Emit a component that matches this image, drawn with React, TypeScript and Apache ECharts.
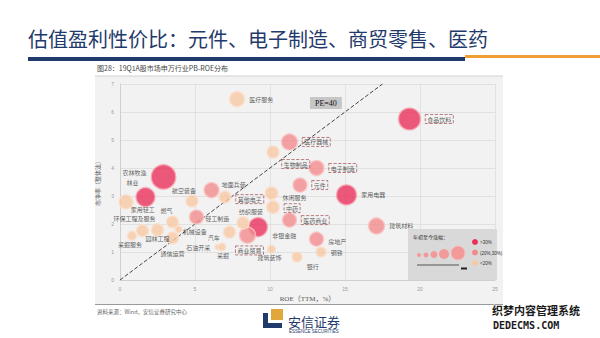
import React, { useEffect, useRef } from 'react';
import * as echarts from 'echarts';

// ---- data ----
const industries = [
  '医疗服务', '食品饮料', '医疗器械', '生物制品', '电子制造', '元件', '家用电器', '建筑材料',
  '房地产', '钢铁', '银行', '建筑装饰', '非银金融', '商业贸易', '医药商业', '休闲服务',
  '中药', '农林牧渔', '林业', '家用轻工', '航空装备', '地面兵装', '其他电子', '轻工制造',
  '燃气', '环保工程及服务', '园林工程', '采掘服务', '通信运营', '机械设备', '汽车', '石油开采',
  '采掘', '纺织服装',
];
const roe = [
  7.8, 19.3, 11.3, 10.2, 13.1, 12.0, 15.1, 17.1,
  13.1, 13.4, 11.8, 10.1, 9.2, 8.5, 11.3, 10.1,
  10.2, 2.9, 1.7, 0.4, 4.8, 6.1, 7.0, 5.1,
  3.5, 1.5, 2.5, 0.8, 3.5, 3.9, 7.3, 6.5,
  6.8, 8.2,
];
const pb = [
  6.46, 5.75, 4.93, 4.57, 4.0, 3.39, 3.04, 1.93,
  1.46, 1.0, 0.82, 1.1, 1.89, 1.6, 2.14, 3.1,
  2.6, 3.68, 2.96, 2.79, 2.82, 3.21, 2.96, 2.25,
  2.07, 1.76, 1.79, 1.58, 1.5, 1.8, 1.71, 1.18,
  1.18, 2.04,
];
// bubble weight (market size proxy)
const weight = [
  56, 121, 64, 36, 56, 49, 100, 64,
  49, 25, 25, 16, 90, 64, 49, 40,
  40, 150, 90, 49, 36, 56, 36, 49,
  36, 36, 36, 20, 36, 12, 36, 6,
  14, 36,
];
// 0: >30%, 1: (20%,30%), 2: <20%
const tier = [
  2, 0, 1, 2, 1, 1, 0, 1,
  1, 2, 2, 2, 0, 1, 1, 2,
  2, 0, 0, 2, 2, 1, 2, 1,
  2, 2, 2, 2, 2, 2, 2, 2,
  2, 2,
];
const highlighted = ['食品饮料', '医疗器械', '生物制品', '电子制造', '元件', '医药商业', '中药', '其他电子', '商业贸易'];
const peLine = [[0, 0], [17.5, 7]];
const xTicks = { min: 0, max: 25, interval: 5 };
const yTicks = { min: 0, max: 7, interval: 1 };
const legendTiers = ['>30%', '(20%,30%)', '<20%'];

// ---- label placement (style) ----
const labelPlace: Record<string, [string, number, number]> = {
  '医疗服务': ['right', 0, 0],
  '食品饮料': ['right', 0, 0],
  '医疗器械': ['right', 0, 0],
  '生物制品': ['right', -2, 12],
  '电子制造': ['right', 0, 0],
  '元件': ['right', 0, 0],
  '家用电器': ['right', 0, 0],
  '建筑材料': ['right', 0, 0],
  '房地产': ['right', 0, 2],
  '钢铁': ['right', 0, 0],
  '银行': ['right', 0, 9],
  '建筑装饰': ['bottom', -2, -3],
  '非银金融': ['right', 0, 8],
  '商业贸易': ['bottom', 2, -2],
  '医药商业': ['right', 0, 0],
  '休闲服务': ['right', 0, 4],
  '中药': ['right', 0, 1],
  '农林牧渔': ['left', 0, -4],
  '林业': ['top', -13, 3],
  '家用轻工': ['right', -7, 8],
  '航空装备': ['top', -8, 3],
  '地面兵装': ['right', -2, -6],
  '其他电子': ['right', 0, 2],
  '轻工制造': ['right', -3, 1],
  '燃气': ['top', -6, 2],
  '环保工程及服务': ['top', -8, 2],
  '园林工程': ['bottom', 0, -5],
  '采掘服务': ['bottom', -2, -3],
  '通信运营': ['bottom', 0, 2],
  '机械设备': ['right', -4, 2],
  '汽车': ['left', 1, 5],
  '石油开采': ['left', 0, 1],
  '采掘': ['bottom', 1, -3],
  '纺织服装': ['top', 8, 2],
};

const tierColors = [
  { color: '#e8315a', borderColor: '#f6aab5' },
  { color: '#f28b8e', borderColor: '#f9c4c3' },
  { color: '#f8c8a4', borderColor: '#fbdfcb' },
];

const NAVY = '#1f3a6b';
const CJK = '"Noto Sans CJK SC", sans-serif';

export default function App() {
  const ref = useRef<HTMLDivElement>(null);
  useEffect(() => {
    if (!ref.current) return;
    const chart = echarts.init(ref.current, undefined, { renderer: 'svg' });

    const data = industries.map((name, i) => {
      const lp = labelPlace[name] || ['right', 0, 0];
      const boxed = highlighted.includes(name);
      return {
        name,
        value: [roe[i], pb[i], weight[i]],
        itemStyle: { ...tierColors[tier[i]], borderWidth: 1.5 },
        label: {
          show: true,
          position: lp[0],
          offset: [lp[1], lp[2]],
          distance: 4,
          formatter: '{b}',
          fontSize: 6,
          fontFamily: CJK,
          color: '#333',
          ...(boxed
            ? { borderType: 'dashed', borderColor: '#9a3b40', borderWidth: 0.8, padding: [1.5, 2] }
            : {}),
        },
      };
    });

    const legendX = 408, legendY = 229;

    chart.setOption({
      animation: false,
      grid: { left: 120, right: 105, top: 84, bottom: 58 },
      xAxis: {
        type: 'value',
        ...xTicks,
        name: 'ROE（TTM，%）',
        nameLocation: 'middle',
        nameGap: 15,
        nameTextStyle: { fontSize: 7, color: '#555', fontFamily: '"Liberation Serif", "Noto Sans CJK SC", serif' },
        axisLine: { show: true, lineStyle: { color: '#cfcfcf' } },
        axisTick: { show: false },
        axisLabel: { fontSize: 5, color: '#999', margin: 6 },
        splitLine: { show: true, lineStyle: { color: '#dcdcdc', width: 0.8 } },
      },
      yAxis: {
        type: 'value',
        ...yTicks,
        name: '市净率（整体法）',
        nameLocation: 'middle',
        nameGap: 16,
        nameRotate: 90,
        nameTextStyle: { fontSize: 6, color: '#666', fontFamily: CJK },
        axisLine: { show: true, lineStyle: { color: '#cfcfcf' } },
        axisTick: { show: false },
        axisLabel: { fontSize: 5, color: '#999', margin: 6 },
        splitLine: { show: true, lineStyle: { color: '#dcdcdc', width: 0.8 } },
      },
      series: [
        {
          type: 'line',
          data: peLine,
          symbol: 'none',
          lineStyle: { type: 'dashed', color: '#444', width: 1 },
          z: 1,
        },
        {
          type: 'scatter',
          data,
          symbolSize: (v: number[]) => 2 * Math.sqrt(v[2]),
          z: 2,
        },
      ],
      graphic: [
        { type: 'rect', z: -10, shape: { x: 95, y: 76, width: 408, height: 228 }, style: { fill: '#f2f2f2' } },
        { type: 'line', z: -9, shape: { x1: 95, y1: 76, x2: 503, y2: 76 }, style: { stroke: '#c8c8c8', lineWidth: 0.8 } },
        { type: 'line', z: -9, shape: { x1: 95, y1: 304.5, x2: 503, y2: 304.5 }, style: { stroke: '#9a9a9a', lineWidth: 1 } },
        {
          type: 'text', x: 28, y: 38,
          style: { text: '估值盈利性价比：元件、电子制造、商贸零售、医药', fill: NAVY, font: `20px ${CJK}`, verticalAlign: 'middle' },
        },
        { type: 'rect', shape: { x: 28, y: 57, width: 437, height: 4 }, style: { fill: NAVY } },
        { type: 'rect', shape: { x: 465, y: 55, width: 135, height: 3 }, style: { fill: '#f0a032' } },
        {
          type: 'text', x: 97, y: 68,
          style: { text: '图28：19Q1A股市场申万行业PB-ROE分布', fill: '#444', font: `7px ${CJK}`, verticalAlign: 'middle' },
        },
        {
          type: 'text', x: 310, y: 97, z: 5,
          style: {
            text: 'PE=40', fill: '#111', font: '8px "Liberation Serif", serif',
            backgroundColor: '#c6c6c6', padding: [2, 5], verticalAlign: 'top',
          },
        },
        // legend box
        { type: 'rect', z: 5, shape: { x: legendX, y: legendY, width: 89, height: 51 }, style: { fill: '#d9d9d9' } },
        { type: 'text', z: 6, x: 413, y: 236, style: { text: '年初至今涨幅：', fill: '#333', font: `5px ${CJK}`, verticalAlign: 'middle' } },
        { type: 'circle', z: 6, shape: { cx: 419, cy: 255, r: 2 }, style: { fill: '#f29a9a' } },
        { type: 'circle', z: 6, shape: { cx: 426, cy: 255, r: 2.5 }, style: { fill: '#f29a9a' } },
        { type: 'circle', z: 6, shape: { cx: 434, cy: 254.5, r: 3.5 }, style: { fill: '#f29a9a' } },
        { type: 'circle', z: 6, shape: { cx: 444, cy: 254, r: 5 }, style: { fill: '#f29a9a' } },
        { type: 'circle', z: 6, shape: { cx: 458, cy: 253, r: 7 }, style: { fill: '#f29a9a', stroke: '#f8c0c0', lineWidth: 1 } },
        { type: 'line', z: 6, shape: { x1: 417, y1: 265, x2: 459, y2: 265 }, style: { stroke: '#555', lineWidth: 1 } },
        { type: 'rect', z: 6, shape: { x: 461, y: 267.5, width: 6, height: 2 }, style: { fill: '#222' } },
        ...legendTiers.flatMap((t, i) => [
          { type: 'circle', z: 6, shape: { cx: 475, cy: 242 + i * 10.5, r: 3 }, style: { fill: tierColors[i].color } },
          { type: 'text', z: 6, x: 480, y: 242.5 + i * 10.5, style: { text: t, fill: '#333', font: '4.5px sans-serif', verticalAlign: 'middle' } },
        ]),
        {
          type: 'text', x: 97, y: 312,
          style: { text: '资料来源：Wind，安信证券研究中心', fill: '#666', font: `5.5px ${CJK}`, verticalAlign: 'middle' },
        },
        // logo
        { type: 'polygon', shape: { points: [[263, 313], [268, 313], [268, 323], [282, 323], [282, 328], [263, 328]] }, style: { fill: NAVY } },
        { type: 'polygon', shape: { points: [[271, 309], [283, 309], [283, 320], [271, 320]] }, style: { fill: '#e2a73a' } },
        { type: 'text', x: 288, y: 321, style: { text: '安信证券', fill: NAVY, font: `13px ${CJK}`, verticalAlign: 'middle' } },
        { type: 'text', x: 289, y: 331.5, style: { text: 'ESSENCE SECURITIES', fill: NAVY, font: '4.5px sans-serif', verticalAlign: 'middle' } },
        // watermark
        {
          type: 'text', x: 492, y: 310,
          style: { text: '织梦内容管理系统', fill: '#1a1a1a', stroke: '#fff', lineWidth: 1, font: `bold 11px ${CJK}`, verticalAlign: 'middle' },
        },
        {
          type: 'text', x: 493, y: 325,
          style: { text: 'DEDECMS.COM', fill: '#1a1a1a', stroke: '#fff', lineWidth: 1, font: 'bold 10px "DejaVu Sans Mono", monospace', verticalAlign: 'middle' },
        },
      ],
    });
    return () => chart.dispose();
  }, []);
  return <div ref={ref} style={{ position: 'absolute', left: 0, top: 0, width: 600, height: 338 }} />;
}
